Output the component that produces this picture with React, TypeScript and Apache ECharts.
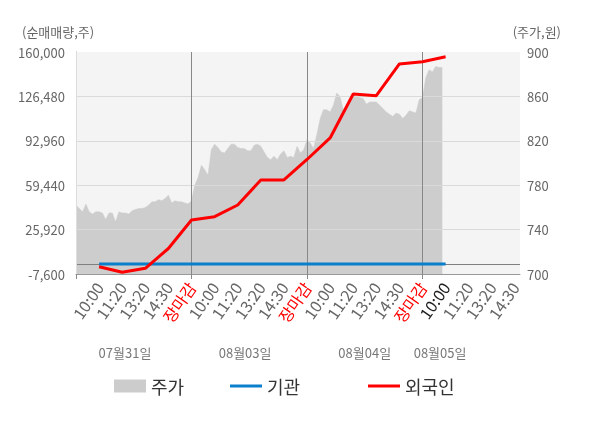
import React, { useEffect, useRef } from "react";
import * as echarts from "echarts";

// ---- data ----
const X_LABELS = [
  "10:00", "11:20", "13:20", "14:30", "장마감",
  "10:00", "11:20", "13:20", "14:30", "장마감",
  "10:00", "11:20", "13:20", "14:30", "장마감",
  "10:00", "11:20", "13:20", "14:30",
];
const DATES = ["07월31일", "08월03일", "08월04일", "08월05일"];
const LEFT_TICKS = [-7600, 25920, 59440, 92960, 126480, 160000];
const RIGHT_TICKS = [700, 740, 780, 820, 860, 900];

// 주가 (price), sampled 7 times per label slot
const PRICE_D1 = [762, 759, 756, 763, 756, 754, 756, 756, 755, 749, 755, 755, 747, 756, 755, 755, 754, 757, 758, 759, 759, 760, 762, 765, 765, 767, 766, 768, 771, 764, 766, 765, 765, 764, 763];
const PRICE_D2 = [766, 780, 787, 798, 794, 789, 812, 817, 814, 810, 809, 813, 817, 817, 814, 813, 813, 811, 811, 816, 817, 815, 810, 805, 803, 806, 803, 808, 811, 805, 806, 805, 815, 809, 812];
const PRICE_D3 = [821, 818, 813, 826, 840, 848, 848, 846, 852, 863, 860, 848, 851, 857, 861, 860, 859, 858, 853, 855, 855, 855, 852, 849, 846, 844, 842, 845, 844, 840, 843, 847, 846, 845, 857];
const PRICE_D4 = [859, 877, 884, 882, 887, 886, 886];
const SAMPLES_PER_SLOT = 7;

// 기관 / 외국인 net buying at label slots 1..16
const INSTITUTION = [0, 0, 0, 0, 0, 0, 0, 0, 0, 0, 0, 0, 0, 0, 0, 0];
const FOREIGN = [-2090, -6320, -3300, 11650, 33170, 35660, 44500, 63370, 63370, 78850, 95100, 128300, 127000, 150950, 152690, 156460];

// ---- layout ----
const X_MAX = 19.22;
const DATE_POS = [2.12, 7.32, 12.5, 15.76];
const DAY_TICKS = [0, 5, 10, 15];
const FONT = "'Noto Sans CJK KR', 'Noto Sans', sans-serif";

export default function App() {
  const ref = useRef<HTMLDivElement>(null);

  useEffect(() => {
    if (!ref.current) return;
    const chart = echarts.init(ref.current, undefined, { renderer: "svg" });

    const prices = [...PRICE_D1, ...PRICE_D2, ...PRICE_D3, ...PRICE_D4];
    const priceData = prices.map((p, i) => [i / SAMPLES_PER_SLOT, p]);
    const instData = INSTITUTION.map((v, i) => [i + 1, v]);
    const foreignData = FOREIGN.map((v, i) => [i + 1, v]);
    const labelSlots = X_LABELS.map((_, i) => i + 1);

    const legendBase = {
      top: 377,
      padding: 0,
      itemWidth: 32,
      icon: "rect",
      textStyle: { fontSize: 18, color: "#333", fontFamily: FONT },
      selectedMode: false,
    };

    chart.setOption({
      animation: false,
      textStyle: { fontFamily: FONT },
      grid: {
        left: 76,
        right: 80,
        top: 52,
        bottom: 154,
        show: true,
        backgroundColor: "#f4f4f4",
        borderWidth: 0,
      },
      graphic: [
        {
          type: "text",
          left: 22,
          top: 25,
          style: { text: "(순매매량,주)", fontSize: 13, fill: "#666", fontFamily: FONT },
        },
        {
          type: "text",
          right: 39,
          top: 25,
          style: { text: "(주가,원)", fontSize: 13, fill: "#666", fontFamily: FONT },
        },
      ],
      legend: [
        { ...legendBase, left: 114, itemHeight: 13, data: ["주가"] },
        { ...legendBase, left: 230, itemHeight: 3, data: ["기관"] },
        { ...legendBase, left: 368, itemHeight: 3, data: ["외국인"] },
      ],
      xAxis: [
        {
          type: "value",
          min: 0,
          max: X_MAX,
          position: "bottom",
          z: 3,
          axisLine: { show: true, onZero: false, lineStyle: { color: "#999" } },
          axisTick: {
            show: true,
            customValues: DAY_TICKS,
            length: 5,
            lineStyle: { color: "#888" },
          },
          splitLine: { show: true, lineStyle: { color: "#888", width: 1 } },
          axisLabel: {
            customValues: labelSlots,
            rotate: 55,
            margin: 10,
            fontSize: 16,
            fontFamily: FONT,
            formatter: (v: number) => X_LABELS[Math.round(v) - 1] ?? "",
            color: (v: any) => {
              const n = Math.round(Number(v));
              const lab = X_LABELS[n - 1];
              if (lab === "장마감") return "#ff0000";
              if (n === FOREIGN.length) return "#222";
              return "#666";
            },
          },
        },
        {
          type: "value",
          min: 0,
          max: X_MAX,
          position: "bottom",
          offset: 64,
          axisLine: { show: false },
          axisTick: { show: false },
          splitLine: { show: false },
          axisLabel: {
            customValues: DATE_POS,
            margin: 8,
            fontSize: 13,
            color: "#777",
            fontFamily: FONT,
            formatter: (v: number) => {
              let best = 0;
              DATE_POS.forEach((p, i) => {
                if (Math.abs(p - v) < Math.abs(DATE_POS[best] - v)) best = i;
              });
              return DATES[best];
            },
          },
        },
      ],
      yAxis: [
        {
          type: "value",
          min: LEFT_TICKS[0],
          max: LEFT_TICKS[LEFT_TICKS.length - 1],
          position: "left",
          z: 3,
          axisLine: { show: true, lineStyle: { color: "#888" } },
          axisTick: { show: false, customValues: LEFT_TICKS },
          splitLine: { show: true, showMaxLine: false, lineStyle: { color: "#dadada" } },
          axisLabel: {
            customValues: LEFT_TICKS,
            margin: 11,
            fontSize: 13,
            color: "#666",
            fontFamily: FONT,
            formatter: (v: number) => v.toLocaleString("en-US"),
          },
        },
        {
          type: "value",
          min: RIGHT_TICKS[0],
          max: RIGHT_TICKS[RIGHT_TICKS.length - 1],
          position: "right",
          z: 3,
          axisLine: { show: true, lineStyle: { color: "#ddd" } },
          axisTick: { show: false, customValues: RIGHT_TICKS },
          splitLine: { show: false },
          axisLabel: {
            customValues: RIGHT_TICKS,
            margin: 7,
            fontSize: 13,
            color: "#666",
            fontFamily: FONT,
          },
        },
      ],
      series: [
        {
          name: "주가",
          type: "line",
          xAxisIndex: 0,
          yAxisIndex: 1,
          data: priceData,
          color: "#cccccc",
          symbol: "none",
          z: 1,
          lineStyle: { width: 0.5, color: "#cdcdcd" },
          areaStyle: { color: "#cdcdcd", opacity: 1, origin: "start" },
        },
        {
          name: "기관",
          type: "line",
          xAxisIndex: 0,
          yAxisIndex: 0,
          data: instData,
          color: "#0a7fcc",
          symbol: "none",
          z: 4,
          lineStyle: { width: 3, color: "#0a7fcc" },
          markLine: {
            silent: true,
            z: 2,
            symbol: "none",
            label: { show: false },
            lineStyle: { color: "#808080", width: 1, type: "solid" },
            data: [{ yAxis: 0 }],
          },
        },
        {
          name: "외국인",
          type: "line",
          xAxisIndex: 0,
          yAxisIndex: 0,
          data: foreignData,
          color: "#ff0000",
          symbol: "none",
          z: 5,
          lineStyle: { width: 3, color: "#ff0000" },
        },
      ],
    });

    return () => chart.dispose();
  }, []);

  return (
    <div
      ref={ref}
      style={{ position: "fixed", left: 0, top: 0, width: 600, height: 428 }}
    />
  );
}
